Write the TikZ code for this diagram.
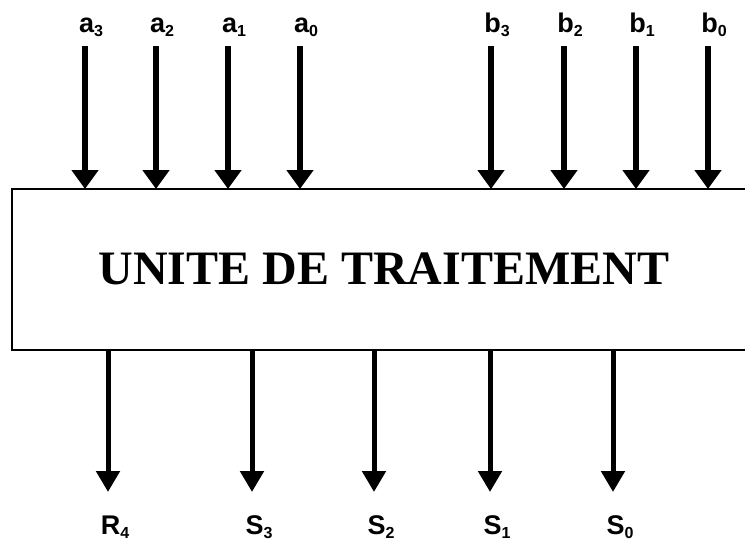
\documentclass[tikz,border=0pt]{standalone}
\usepackage{fontspec}
\setmainfont{Liberation Serif}
\newfontfamily\lab{Liberation Sans}
\usetikzlibrary{arrows.meta}
\newcommand{\sig}[2]{{\lab\bfseries\fontsize{27}{29}\selectfont #1\raisebox{-4.5pt}{\fontsize{16}{16}\selectfont #2}}}
\tikzset{
  inarrow/.style={line width=5.5pt,-{Triangle[width=26pt,length=19pt]}},
  outarrow/.style={line width=5pt,-{Triangle[width=23pt,length=21pt]}},
  sigl/.style={inner sep=0pt,anchor=base},
}
\begin{document}
\begin{tikzpicture}[x=1pt,y=-1pt]
\useasboundingbox (0,0) rectangle (745,542);
\clip (0,0) rectangle (745,542);
% box (right edge cut off)
\draw[line width=1.6pt] (760,189) -- (12,189) -- (12,350) -- (760,350);
\node[inner sep=0pt,anchor=base,font=\bfseries\fontsize{48}{56}\selectfont] (unit) at (384,284) {UNITE DE TRAITEMENT};
% inputs
\foreach \n/\s/\x in {a/3/85,a/2/156,a/1/228,a/0/300,b/3/491,b/2/564,b/1/636,b/0/708}{
  \node[sigl] (\n\s) at (\x+6,32) {\sig{\n}{\s}};
  \coordinate (\n\s s) at (\x,46);
  \coordinate (\n\s e) at (\x,189);
  \draw[inarrow] (\n\s s) -- (\n\s e);
}
% outputs
\foreach \n/\s/\x in {R/4/108,S/3/252,S/2/374,S/1/490,S/0/613}{
  \coordinate (o\n\s s) at (\x,350);
  \coordinate (o\n\s e) at (\x,492);
  \draw[outarrow] (o\n\s s) -- (o\n\s e);
  \node[sigl] (o\n\s) at (\x+7,534) {\sig{\n}{\s}};
}
\end{tikzpicture}
\end{document}
